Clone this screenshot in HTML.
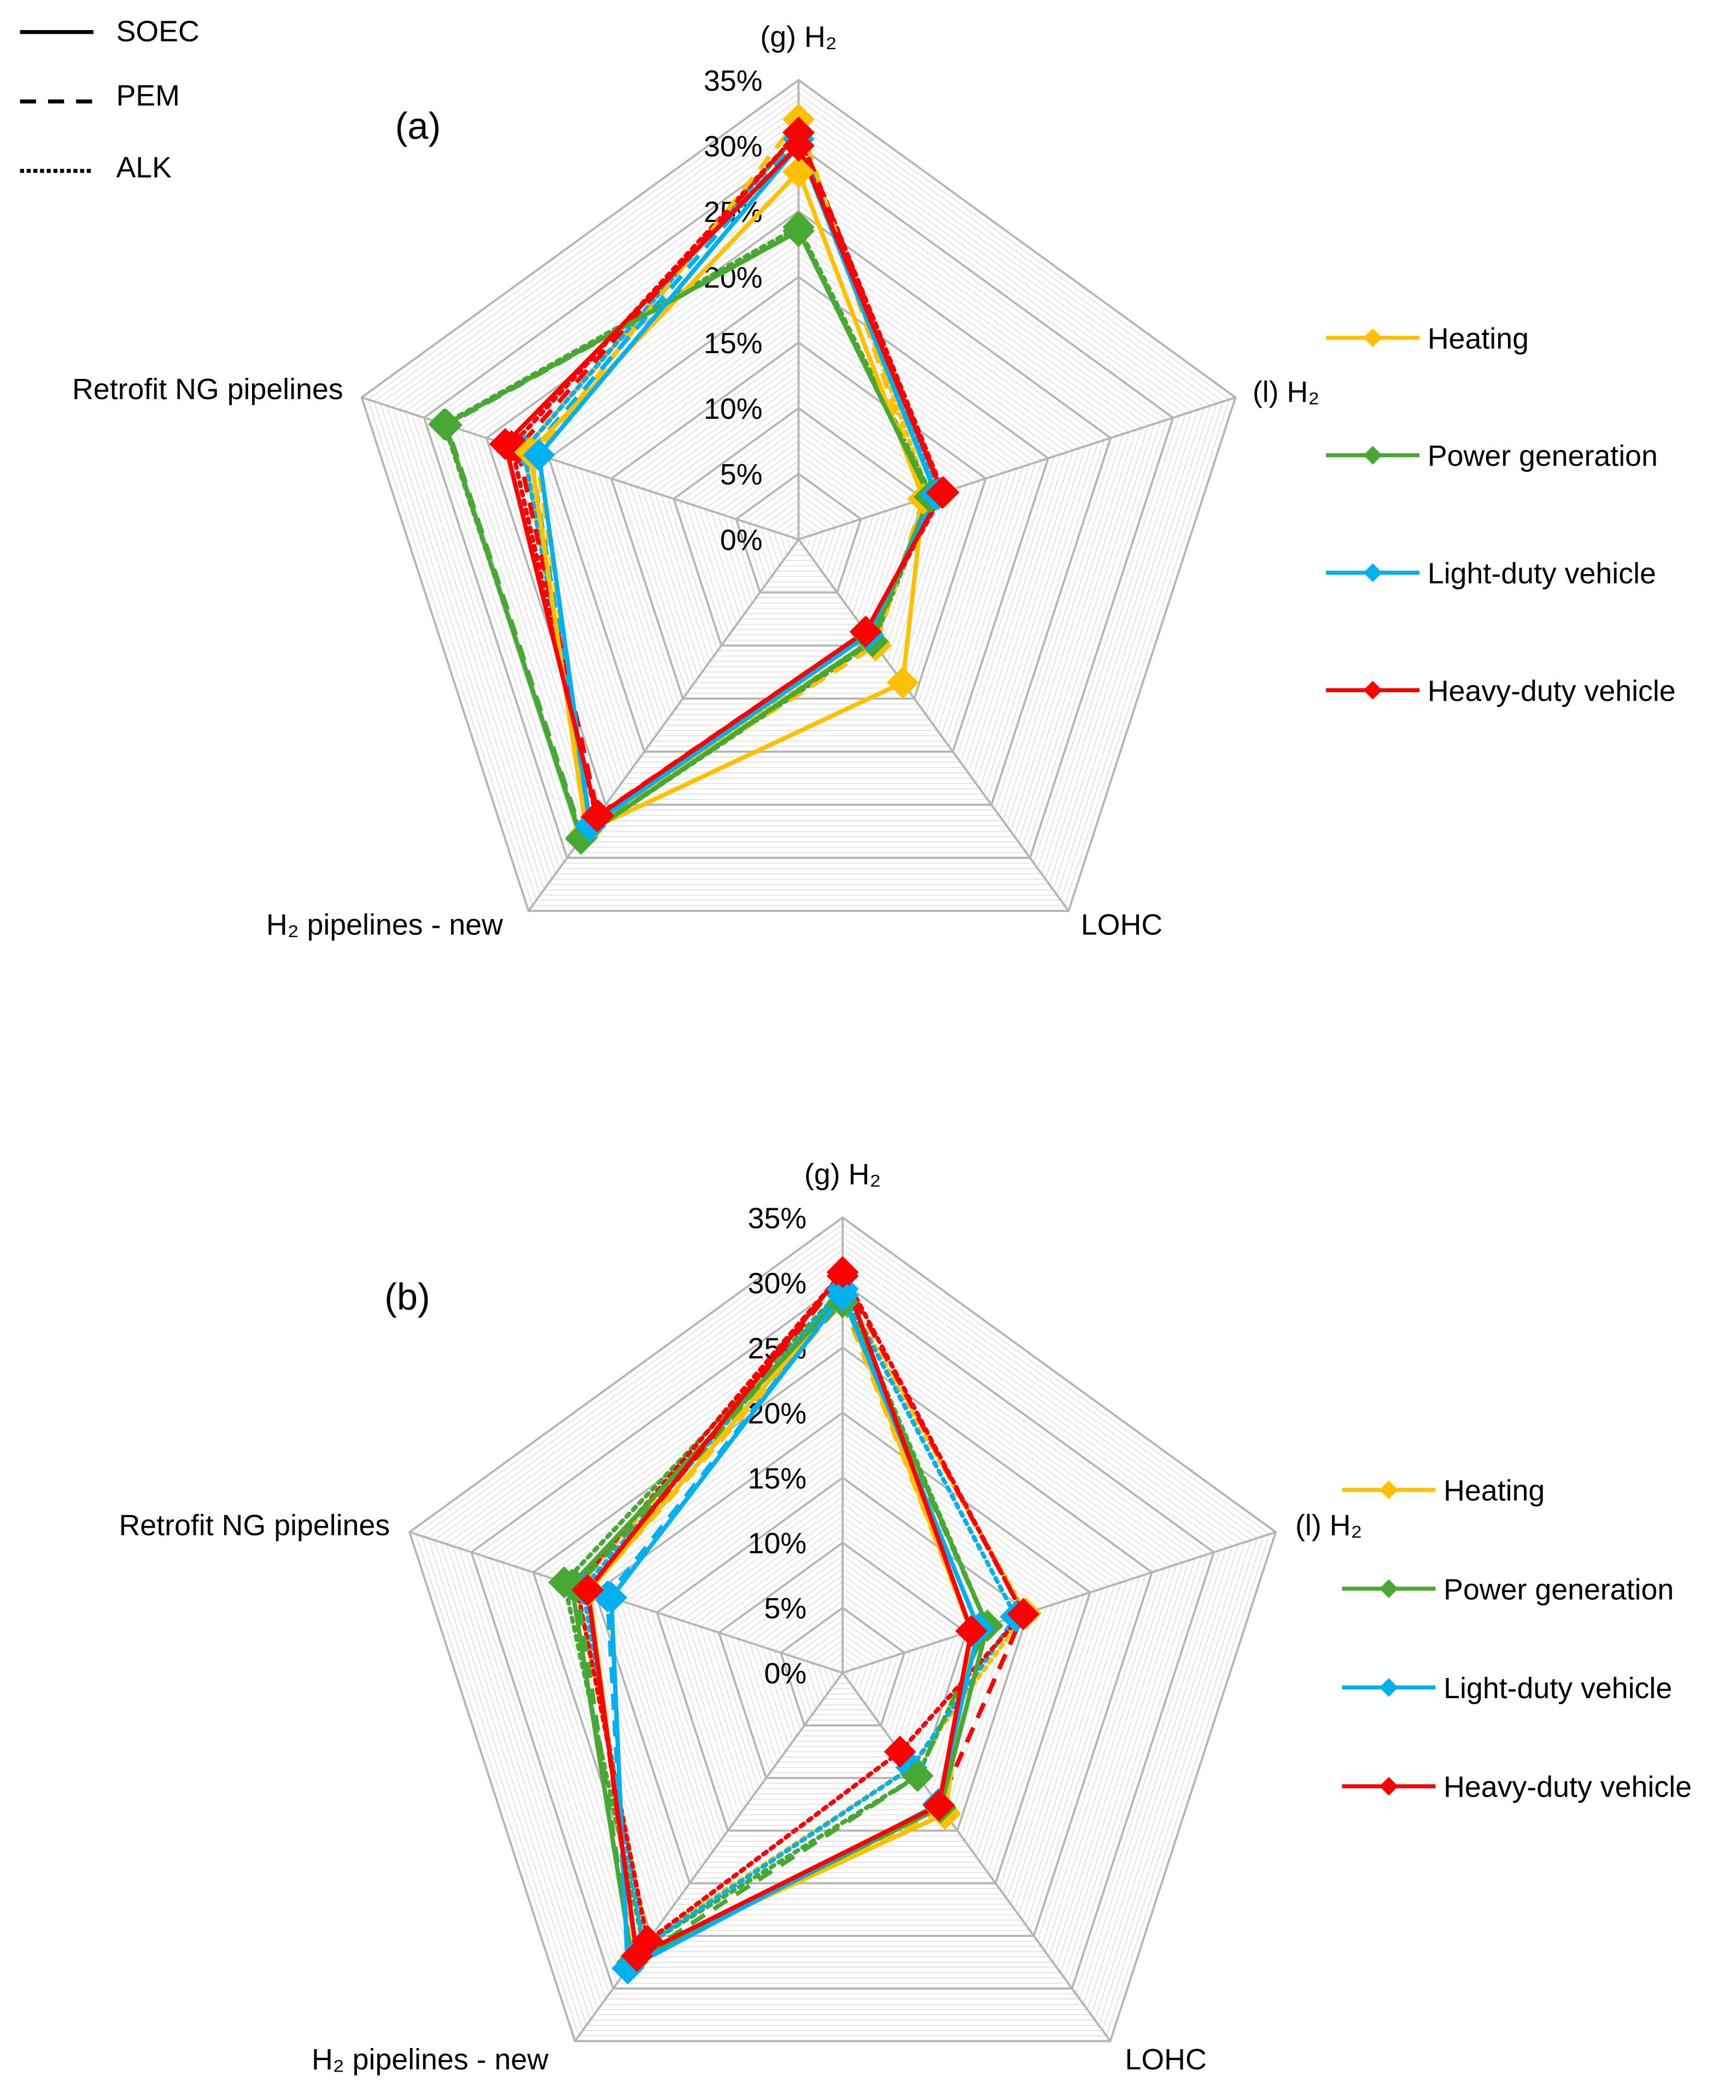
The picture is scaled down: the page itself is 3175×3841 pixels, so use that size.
<!DOCTYPE html>
<html><head><meta charset="utf-8"><style>
html,body{margin:0;padding:0;background:#fff;}
svg{display:block;font-family:"Liberation Sans",Arial,sans-serif;}
</style></head><body>
<svg id="s" width="3175" height="3841" viewBox="0 0 1300 1573" preserveAspectRatio="none" xmlns="http://www.w3.org/2000/svg">
<g>
<line x1="15" y1="24" x2="70" y2="24" stroke="#000" stroke-width="3"/>
<text x="87" y="31" font-size="22">SOEC</text>
<line x1="15" y1="76" x2="70" y2="76" stroke="#000" stroke-width="3" stroke-dasharray="12,9"/>
<text x="87" y="79" font-size="22">PEM</text>
<line x1="15" y1="128" x2="70" y2="128" stroke="#000" stroke-width="3" stroke-dasharray="3,2"/>
<text x="87" y="133" font-size="22">ALK</text>
</g>
</svg>
<script>
const axisLabels = ["(g) H\u2082","(l) H\u2082","LOHC","H\u2082 pipelines - new","Retrofit NG pipelines"];
const tickLabels = ["0%","5%","10%","15%","20%","25%","30%","35%"];
const sectors = ["Heating","Power generation","Light-duty vehicle","Heavy-duty vehicle"];
const techs = ["SOEC","PEM","ALK"];
// chart (a) values [gH2, lH2, LOHC, H2 new, Retrofit] in %
const aHeatingSOEC=[28,10,13.5,27.5,21.5], aHeatingPEM=[32,10,10,27,21], aHeatingALK=[31,10.5,9.5,27,22];
const aPowerSOEC=[23.5,10.5,9.5,28.2,28.3], aPowerPEM=[23.5,10.6,9.6,28,28.2], aPowerALK=[23.8,10.7,9.7,28.1,28.4];
const aLdvSOEC=[30,11,9,27,20.8], aLdvPEM=[30.5,11,9,27,21.5], aLdvALK=[31,11.2,9,27,22];
const aHdvSOEC=[30,11.5,8.7,26.1,23.5], aHdvPEM=[31,11.5,8.7,26,22.5], aHdvALK=[31,11.6,8.8,26.2,23];
// chart (b)
const bHeatingSOEC=[29,10.4,13.4,27,20.5], bHeatingPEM=[28.5,10.4,13,27,20.5], bHeatingALK=[29.5,14.8,9,25.5,21.5];
const bPowerSOEC=[29,11.7,12.8,27.5,21.9], bPowerPEM=[28.5,11.7,9.8,27.5,21.5], bPowerALK=[29.5,11.7,9.8,26,22.5];
const bLdvSOEC=[29,11,12.5,28.1,18.7], bLdvPEM=[29,11,12.5,28,19], bLdvALK=[29.5,14,9,26,21];
const bHdvSOEC=[30.8,10.4,12.6,26.9,20.6], bHdvPEM=[30.5,14.6,12.6,27,20.6], bHdvALK=[30.8,14.6,7.5,25.5,21.5];

const colors=["#FFC000","#47A833","#00B0F0","#FF0000"];
const dashes=["none","12,8","3,4"];
const NS="http://www.w3.org/2000/svg";
const svg=document.getElementById('s');
function mk(tag,attrs,parent){const e=document.createElementNS(NS,tag);for(const k in attrs)e.setAttribute(k,attrs[k]);(parent||svg).appendChild(e);return e;}

function drawChart(cfg){
  const g=mk('g',{});
  
  
  const cx=cfg.cx,cy=cfg.cy,R=cfg.R,max=35;
  const ang=i=>-Math.PI/2+i*2*Math.PI/5;
  const pt=(i,v)=>[cx+R*v/max*Math.cos(ang(i)),cy+R*v/max*Math.sin(ang(i))];
  for(let v=0.5;v<=35.001;v+=0.5){
    const major=Math.abs(v/5-Math.round(v/5))<1e-6;
    const p=[0,1,2,3,4].map(i=>pt(i,v).join(',')).join(' ');
    const e=mk('polygon',{points:p,fill:'none',stroke:major?'#b5b5b5':'#e3e3e3','stroke-width':major?1.6:0.8},g);
    
    
  }
  for(let i=0;i<5;i++){const p=pt(i,35);
    const e=mk('line',{x1:cx,y1:cy,x2:p[0],y2:p[1],stroke:'#b5b5b5','stroke-width':1.6},g);
    
    }
  tickLabels.forEach((t,k)=>{
    const e=mk('text',{x:cx-27,y:cy-R*(k*5)/max+8,'font-size':22,'text-anchor':'end'},g);e.textContent=t;
    
    });
  cfg.labelPos.forEach((lp,i)=>{
    const e=mk('text',{x:lp[0],y:lp[1],'font-size':22,'text-anchor':lp[2]},g);e.textContent=axisLabels[i];
    
    });
  for(let t=2;t>=0;t--){
    for(let s=0;s<4;s++){
      const vals=cfg.data[s][t];
      const pts=vals.map((v,i)=>pt(i,v).join(',')).join(' ');
      const e=mk('polygon',{points:pts,fill:'none',stroke:colors[s],'stroke-width':3.3,'stroke-dasharray':dashes[t],'stroke-linecap':t==2?'round':'butt'},g);
      
      
    }
  }
  for(let t=2;t>=0;t--)for(let s=0;s<4;s++){
    cfg.data[s][t].forEach((v,i)=>{const p=pt(i,v),d=12;
      const e=mk('polygon',{points:`${p[0]},${p[1]-d} ${p[0]+d},${p[1]} ${p[0]},${p[1]+d} ${p[0]-d},${p[1]}`,fill:colors[s]},g);
      
      });
  }
  cfg.legend.ys.forEach((y,s)=>{
    const x0=cfg.legend.x;
    const l=mk('line',{x1:x0,y1:y,x2:x0+70,y2:y,stroke:colors[s],'stroke-width':3},g);
    
    
    const m=mk('polygon',{points:`${x0+35},${y-7} ${x0+42},${y} ${x0+35},${y+7} ${x0+28},${y}`,fill:colors[s]},g);
    
    
    const tx=mk('text',{x:x0+76,y:y+8,'font-size':22},g);tx.textContent=sectors[s];
    
    
  });
  const pl=mk('text',{x:cfg.panel[0],y:cfg.panel[1],'font-size':28,'text-anchor':'middle'},g);pl.textContent=cfg.panel[2];
  
  
}
drawChart({name:'radar-chart-a',cx:598,cy:404,R:344,
  data:[[aHeatingSOEC,aHeatingPEM,aHeatingALK],[aPowerSOEC,aPowerPEM,aPowerALK],[aLdvSOEC,aLdvPEM,aLdvALK],[aHdvSOEC,aHdvPEM,aHdvALK]],
  labelPos:[[598,35,'middle'],[938,301,'start'],[840,700,'middle'],[288,700,'middle'],[257,299,'end']],
  legend:{x:993,ys:[253,341,429,517]},panel:[313,104,'(a)']});
drawChart({name:'radar-chart-b',cx:631,cy:1253,R:341,
  data:[[bHeatingSOEC,bHeatingPEM,bHeatingALK],[bPowerSOEC,bPowerPEM,bPowerALK],[bLdvSOEC,bLdvPEM,bLdvALK],[bHdvSOEC,bHdvPEM,bHdvALK]],
  labelPos:[[631,887,'middle'],[970,1150,'start'],[873,1550,'middle'],[322,1550,'middle'],[292,1150,'end']],
  legend:{x:1005,ys:[1116,1190,1264,1338]},panel:[305,981,'(b)']});
</script>
</body></html>
